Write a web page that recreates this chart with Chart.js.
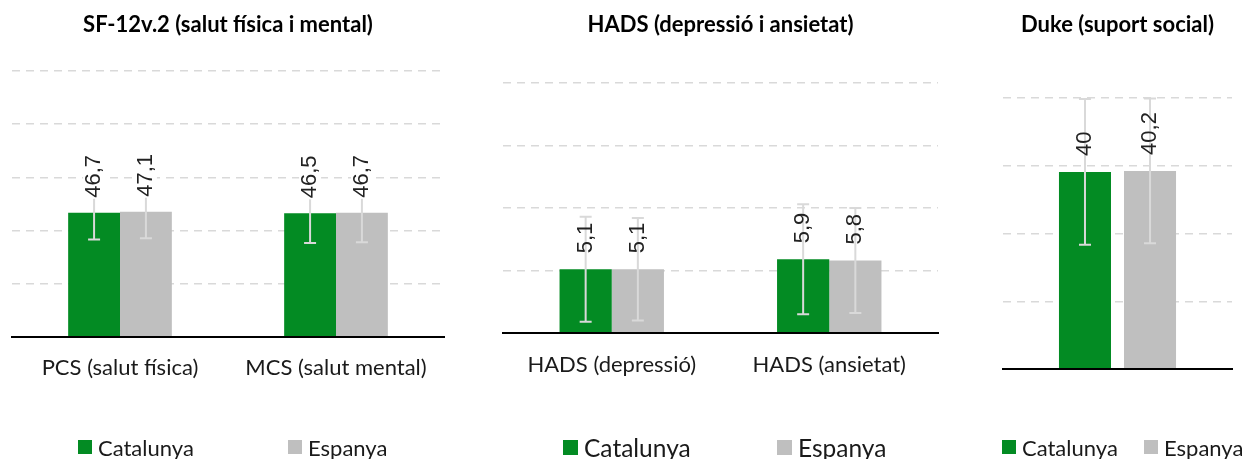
<!DOCTYPE html>
<html>
<head>
<meta charset="utf-8">
<script src="https://cdn.jsdelivr.net/npm/chart.js@4.4.1/dist/chart.umd.min.js"></script>
<style>
  body { margin: 0; background: #fff; width: 1244px; height: 459px; position: relative; overflow: hidden; font-family: Lato, sans-serif; }
  canvas { position: absolute; top: 0; }
  .leg { position: absolute; top: 435px; height: 24px; display: flex; align-items: center; color: #1a1a1a; white-space: nowrap; }
  .leg i { display: inline-block; }
</style>
</head>
<body>
<canvas id="c1" width="456" height="459" style="left:0px"></canvas>
<canvas id="c2" width="529" height="459" style="left:456px"></canvas>
<canvas id="c3" width="254" height="459" style="left:990px"></canvas>

<script>
// series
const seriesNames = ['Catalunya', 'Espanya'];
const seriesColors = ['#038B23', '#BFBFBF'];

// SF-12v.2
const sfTitle = 'SF-12v.2 (salut física i mental)';
const sfCategories = ['PCS (salut física)', 'MCS (salut mental)'];
const sfCatalunya = [46.7, 46.5];
const sfEspanya = [47.1, 46.7];
const sfCatalunyaSD = [10.0, 11.2];
const sfEspanyaSD = [10.0, 11.1];
const sfTicks = { min: 0, max: 100, step: 20 };

// HADS
const hadsTitle = 'HADS (depressió i ansietat)';
const hadsCategories = ['HADS (depressió)', 'HADS (ansietat)'];
const hadsCatalunya = [5.1, 5.9];
const hadsEspanya = [5.1, 5.8];
const hadsCatalunyaSD = [4.2, 4.4];
const hadsEspanyaSD = [4.1, 4.2];
const hadsTicks = { min: 0, max: 20, step: 5 };

// Duke
const dukeTitle = 'Duke (suport social)';
const dukeCategories = [''];
const dukeCatalunya = [40];
const dukeEspanya = [40.2];
const dukeCatalunyaSD = [14.8];
const dukeEspanyaSD = [14.7];
const dukeTicks = { min: 0, max: 55, step: 13.75 };

const fmt = v => String(v).replace('.', ',');

// error bars + rotated value labels
const errLabels = {
  id: 'errLabels',
  afterDatasetsDraw(chart, args, opts) {
    const ctx = chart.ctx;
    const y = chart.scales.y;
    const metas = chart.data.datasets.map((ds, i) => chart.getDatasetMeta(i));
    ctx.save();
    ctx.strokeStyle = '#D9D9D9';
    ctx.lineWidth = 2;
    chart.data.datasets.forEach((ds, i) => {
      metas[i].data.forEach((bar, j) => {
        const top = y.getPixelForValue(ds.data[j] + ds.sd[j]);
        const bot = y.getPixelForValue(ds.data[j] - ds.sd[j]);
        ctx.beginPath();
        ctx.moveTo(bar.x, top); ctx.lineTo(bar.x, bot);
        ctx.moveTo(bar.x - 6, top); ctx.lineTo(bar.x + 6, top);
        ctx.moveTo(bar.x - 6, bot); ctx.lineTo(bar.x + 6, bot);
        ctx.stroke();
      });
    });
    ctx.font = '22px "Liberation Sans", Arial, sans-serif';
    ctx.textAlign = 'left';
    ctx.textBaseline = 'middle';
    chart.data.datasets.forEach((ds, i) => {
      metas[i].data.forEach((bar, j) => {
        const txt = fmt(ds.data[j]);
        ctx.save();
        ctx.translate(bar.x, bar.y - opts.offset);
        ctx.rotate(-Math.PI / 2);
        if (opts.bg) {
          const w = ctx.measureText(txt).width;
          ctx.fillStyle = '#fff';
          ctx.fillRect(-1, -11, w + 2, 22);
        }
        ctx.fillStyle = '#222';
        ctx.fillText(txt, 0, 0);
        ctx.restore();
      });
    });
    ctx.restore();
  }
};

function makeChart(id, o) {
  return new Chart(document.getElementById(id), {
    type: 'bar',
    data: {
      labels: o.labels,
      datasets: [
        { label: seriesNames[0], data: o.a, sd: o.aSD, backgroundColor: seriesColors[0], borderWidth: 0,
          categoryPercentage: o.catPct, barPercentage: o.barPct },
        { label: seriesNames[1], data: o.b, sd: o.bSD, backgroundColor: seriesColors[1], borderWidth: 0,
          categoryPercentage: o.catPct, barPercentage: o.barPct }
      ]
    },
    options: {
      responsive: false,
      animation: false,
      layout: { padding: o.pad },
      plugins: {
        legend: { display: false },
        tooltip: { enabled: false },
        title: {
          display: true,
          text: o.title,
          color: '#000',
          font: { family: 'Lato', size: 22, weight: 'bold', lineHeight: 1.2 },
          padding: { top: 12, bottom: o.titleGap }
        },
        errLabels: { offset: o.labelOffset, bg: o.labelBg }
      },
      scales: {
        x: {
          grid: { display: false },
          border: { display: true, color: '#000', width: 2, z: 1 },
          ticks: {
            display: o.showX,
            color: '#1a1a1a',
            font: { family: 'Lato', size: 22, lineHeight: 1.2 },
            padding: o.xPad,
            maxRotation: 0,
            autoSkip: false
          }
        },
        y: {
          min: o.ticks.min,
          max: o.ticks.max,
          ticks: { display: false, stepSize: o.ticks.step },
          grid: { color: '#D9D9D9', lineWidth: 1.5, drawTicks: false },
          border: { display: false, dash: [8, 6] }
        }
      }
    },
    plugins: [errLabels]
  });
}

makeChart('c1', {
  labels: sfCategories, a: sfCatalunya, b: sfEspanya, aSD: sfCatalunyaSD, bSD: sfEspanyaSD,
  ticks: sfTicks, title: sfTitle, titleGap: 32.6, catPct: 0.48, barPct: 1.0,
  pad: { left: 12, right: 12, top: 0, bottom: 67.6 }, showX: true, xPad: 10,
  labelOffset: 15, labelBg: true
});

makeChart('c2', {
  labels: hadsCategories, a: hadsCatalunya, b: hadsEspanya, aSD: hadsCatalunyaSD, bSD: hadsEspanyaSD,
  ticks: hadsTicks, title: hadsTitle, titleGap: 44.6, catPct: 0.48, barPct: 1.0,
  pad: { left: 47, right: 47, top: 0, bottom: 69.6 }, showX: true, xPad: 11,
  labelOffset: 16, labelBg: false
});

makeChart('c3', {
  labels: dukeCategories, a: dukeCatalunya, b: dukeEspanya, aSD: dukeCatalunyaSD, bSD: dukeEspanyaSD,
  ticks: dukeTicks, title: dukeTitle, titleGap: 59.6, catPct: 0.568, barPct: 0.8,
  pad: { left: 13, right: 12, top: 0, bottom: 82 }, showX: false, xPad: 0,
  labelOffset: 16, labelBg: false
});

// legends (box left, box size, font size) per chart
const legends = [
  { items: [78, 288], box: 14, size: 22 },
  { items: [563, 777], box: 15, size: 24.5 },
  { items: [1002, 1144], box: 14, size: 22 }
];
legends.forEach(l => {
  l.items.forEach((left, k) => {
    const d = document.createElement('div');
    d.className = 'leg';
    d.style.left = left + 'px';
    d.style.fontSize = l.size + 'px';
    d.innerHTML = '<i style="width:' + l.box + 'px;height:' + l.box + 'px;background:' + seriesColors[k] +
      ';margin-right:6px"></i><span>' + seriesNames[k] + '</span>';
    document.body.appendChild(d);
  });
});
</script>
</body>
</html>
